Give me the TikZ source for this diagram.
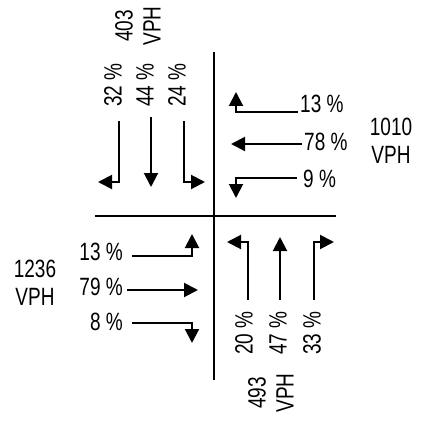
\documentclass[tikz,border=0pt]{standalone}
\usepackage{fontspec}
\setmainfont{Liberation Sans}
\usetikzlibrary{arrows.meta}
\newcommand{\cz}[1]{\scalebox{0.76}[1]{#1}}
\begin{document}
\begin{tikzpicture}[x=1pt,y=-1pt,
  lbl/.style={inner sep=0pt,font=\fontsize{25}{28}\selectfont,align=center},
  rlbl/.style={lbl,rotate=90},
  road/.style={line width=2pt},
  mv/.style={line width=2pt,-{Triangle[length=14pt,width=14pt]}}]
\useasboundingbox[fill=white] (0,0) rectangle (422,425);
% roads
\coordinate (vt) at (214,52); \coordinate (vb) at (214,380);
\coordinate (hl) at (95,216); \coordinate (hr) at (336,216);
\draw[road] (vt) -- (vb);
\draw[road] (hl) -- (hr);
% north approach (southbound)
\coordinate (n1s) at (119,121); \coordinate (n1e) at (98,182);
\coordinate (n2s) at (151,117); \coordinate (n2e) at (151,187);
\coordinate (n3s) at (184,121); \coordinate (n3e) at (205,182);
\draw[mv] (n1s) |- (n1e);
\draw[mv] (n2s) -- (n2e);
\draw[mv] (n3s) |- (n3e);
\node[rlbl] (nl1) at (113,85) {\cz{32 \%}};
\node[rlbl] (nl2) at (145,85) {\cz{44 \%}};
\node[rlbl] (nl3) at (177,85) {\cz{24 \%}};
\node[rlbl] (nv) at (138,26) {\cz{403}\\\cz{VPH}};
% east approach (westbound)
\coordinate (e1s) at (298,112); \coordinate (e1e) at (236,92);
\coordinate (e2s) at (302,144); \coordinate (e2e) at (231,144);
\coordinate (e3s) at (297,178); \coordinate (e3e) at (236,198);
\draw[mv] (e1s) -| (e1e);
\draw[mv] (e2s) -- (e2e);
\draw[mv] (e3s) -| (e3e);
\node[lbl,anchor=base west] (el1) at (300,113) {\cz{13 \%}};
\node[lbl,anchor=base west] (el2) at (304,150) {\cz{78 \%}};
\node[lbl,anchor=base west] (el3) at (303,187) {\cz{9 \%}};
\node[lbl] (ev) at (391,141) {\cz{1010}\\\cz{VPH}};
% west approach (eastbound)
\coordinate (w1s) at (132,256); \coordinate (w1e) at (192,234);
\coordinate (w2s) at (127,290); \coordinate (w2e) at (198,290);
\coordinate (w3s) at (132,323); \coordinate (w3e) at (192,343);
\draw[mv] (w1s) -| (w1e);
\draw[mv] (w2s) -- (w2e);
\draw[mv] (w3s) -| (w3e);
\node[lbl,anchor=base east] (wl1) at (123,260) {\cz{13 \%}};
\node[lbl,anchor=base east] (wl2) at (123,295) {\cz{79 \%}};
\node[lbl,anchor=base east] (wl3) at (123,330) {\cz{8 \%}};
\node[lbl] (wv) at (35,283) {\cz{1236}\\\cz{VPH}};
% south approach (northbound)
\coordinate (s1s) at (248,300); \coordinate (s1e) at (227,242);
\coordinate (s2s) at (280,300); \coordinate (s2e) at (280,237);
\coordinate (s3s) at (314,300); \coordinate (s3e) at (334,242);
\draw[mv] (s1s) |- (s1e);
\draw[mv] (s2s) -- (s2e);
\draw[mv] (s3s) |- (s3e);
\node[rlbl] (sl1) at (244,333) {\cz{20 \%}};
\node[rlbl] (sl2) at (278,333) {\cz{47 \%}};
\node[rlbl] (sl3) at (312,333) {\cz{33 \%}};
\node[rlbl] (sv) at (271,393) {\cz{493}\\\cz{VPH}};
\end{tikzpicture}
\end{document}
